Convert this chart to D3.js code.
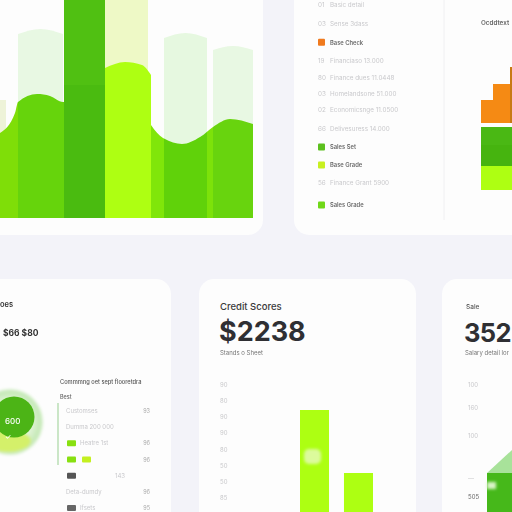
<!DOCTYPE html>
<html><head><meta charset="utf-8">
<script src="https://cdn.jsdelivr.net/npm/d3@7"></script>
<style>html,body{margin:0;padding:0;background:#f3f3f9;overflow:hidden}svg{display:block}text{font-family:Inter,"Liberation Sans",sans-serif}</style>
</head><body><svg id="c" width="512" height="512"></svg>
<script>
// ---- data ----
const paleColumns = ["A","B","C","D","E"];
const paleStart = [-8,18,105,164,213];
const paleEnd = [6,63,148,207,253];
const paleEdge = [118,184,240,180,168];
const paleMid = [118,189,240,185,172];
const paleFill = ["#eef3d8","#e8f8e3","#eef9c6","#e6f8e0","#e8f8e3"];
const bandStart = [0,18,64,105,151,164,207,213];
const bandEnd = [18,64,105,151,164,207,213,253];
const bandFill = ["#7fde08","#66d40c","#4cbc10","#aeff12","#80e60a","#60d20a","#7de20a","#68d40e"];
const waveX = [0,15,18,37,50,63,105,125,142,151,163,182,200,213,230,253];
const waveH = [85,105,116,124,122,116,120,120,110,93,80,74,81,91,99,94];
const limeX = [105,125,142,151];
const limeH = [150,156,153,143];
const legendLabels = ["Basic detail","Sense 3dass","Base Check","Financiaso 13.000","Finance dues 11.0448","Homelandsone 51.000","Economicsnge 11.0500","Delivesuress 14.000","Sales Set","Base Grade","Finance Grant 5900","Sales Grade"];
const legendCodes = ["01","03","","19","80","03","02","66","","","56",""];
const legendSwatch = [null,null,"#f07a1e",null,null,null,null,null,"#5cc01e","#c8f020",null,"#70d818"];
const stackSteps = ["s1","s2","s3"];
const stackStart = [481,493,510];
const stackTop = [118,134,151];
const stackBase = 95;
const stackGreenTop = 91;
const stackGreen = [18,21,24];
const stackGreenFill = ["#4ab814","#46b40f","#aeff12"];
const listLabels = ["Customses","Dumma 200 000","Heatre 1st","","143","Deta-dumdy","Ifsets"];
const listValues = ["93","","96","96","","96","95"];
const listSwatch = [null,null,["#88e010"],["#88e010","#c4f020"],["#555"],null,["#666"]];
const creditTicks = ["90","80","90","90","80","50","50","85"];
const creditBars = ["a","b"];
const creditValues = [102,39];
const saleTicks = ["100","160","100","—","505"];
const saleTickValues = [127,104,76,34,15];

// ---- helpers ----
const svg = d3.select("#c");
const defs = svg.append("defs");
const blur = defs.append("filter").attr("id","soft").attr("x","-10%").attr("y","-30%").attr("width","120%").attr("height","160%");
blur.append("feGaussianBlur").attr("stdDeviation",0.45);
const blob = defs.append("filter").attr("id","blob").attr("x","-30%").attr("y","-30%").attr("width","160%").attr("height","160%");
blob.append("feGaussianBlur").attr("stdDeviation",1.6);
const halo = defs.append("radialGradient").attr("id","halo");
halo.append("stop").attr("offset","60%").attr("stop-color","#e6f6dc");
halo.append("stop").attr("offset","92%").attr("stop-color","#c4e8b6");
halo.append("stop").attr("offset","100%").attr("stop-color","#dcf2d2");
const FONT_GREY="#c9c9cc";
const card=(x,y,w,h)=>svg.append("rect").attr("x",x).attr("y",y).attr("width",w).attr("height",h).attr("rx",15).attr("fill","#fdfdfd");
const label=(g,x,y,t,o={})=>g.append("text").attr("x",x).attr("y",y).text(t)
  .attr("font-size",o.size||6.5).attr("font-weight",o.weight||400).attr("fill",o.fill||FONT_GREY)
  .attr("text-anchor",o.anchor||"start").attr("letter-spacing",o.spacing||null).attr("filter",o.sharp?null:"url(#soft)");

card(-30,-30,293,265); card(294,-30,250,265); card(-30,279,201,260); card(199,279,217,260); card(442,279,100,260);

// ---- top-left chart ----
const x = d3.scaleLinear().domain([0,253]).range([0,253]);
const y = d3.scaleLinear().domain([0,218]).range([218,0]);
const g1 = svg.append("g");
const dome = d3.area().x(d=>x(d[0])).y0(y(0)).y1(d=>y(d[1])).curve(d3.curveNatural);
paleColumns.forEach((_,i)=>{
  g1.append("path").attr("d",dome([[paleStart[i],paleEdge[i]],[(paleStart[i]+paleEnd[i])/2,paleMid[i]],[paleEnd[i],paleEdge[i]]])).attr("fill",paleFill[i]);
});
const wave = d3.area().x((d,i)=>x(waveX[i])).y0(y(0)).y1(d=>y(d)).curve(d3.curveMonotoneX);
bandStart.forEach((s,i)=>{
  const id="band"+i;
  defs.append("clipPath").attr("id",id).append("rect").attr("x",x(s)).attr("y",0).attr("width",x(bandEnd[i])-x(s)).attr("height",y(0));
  if(i===2){
    g1.append("rect").attr("x",x(s)).attr("y",0).attr("width",x(bandEnd[i])-x(s)).attr("height",y(0)).attr("fill","#4abb10");
    g1.append("rect").attr("x",x(s)).attr("y",0).attr("width",x(bandEnd[i])-x(s)).attr("height",y(133)).attr("fill","#50c012");
  } else if(i===3){
    const lime=d3.area().x((d,j)=>x(limeX[j])).y0(y(0)).y1(d=>y(d)).curve(d3.curveMonotoneX);
    g1.append("path").attr("d",lime(limeH)).attr("fill",bandFill[i]);
  } else {
    g1.append("path").attr("d",wave(waveH)).attr("clip-path",`url(#${id})`).attr("fill",bandFill[i]);
  }
});

// ---- legend card ----
const g2 = svg.append("g");
const rowY = d3.scaleLinear().domain([0,3,6,7,10,11]).range([5,61,110,129,183,205]);
g2.append("line").attr("x1",444).attr("x2",444).attr("y1",0).attr("y2",220).attr("stroke","#f0f0f2");
legendLabels.forEach((t,i)=>{
  const ry=rowY(i), sw=legendSwatch[i];
  if(sw){
    g2.append("rect").attr("x",318).attr("y",ry-3.5).attr("width",7).attr("height",7).attr("rx",1).attr("fill",sw);
    label(g2,330,ry+2.2,t,{fill:"#6a6a6a",weight:600,size:5.8});
  } else {
    label(g2,318,ry+2.2,legendCodes[i],{size:6.3});
    label(g2,330,ry+2.2,t,{size:6.3});
  }
});
label(g2,481,25,"Ocddtext",{fill:"#666",weight:600,size:6.3});
stackSteps.forEach((_,i)=>{
  g2.append("rect").attr("x",stackStart[i]).attr("y",y(stackTop[i])).attr("width",540-stackStart[i]).attr("height",y(stackBase)-y(stackTop[i])).attr("fill",i===2?"#c87a14":"#f58a14");
});
let acc=0;
stackGreen.forEach((v,i)=>{
  g2.append("rect").attr("x",481).attr("y",y(stackGreenTop-acc)).attr("width",40).attr("height",y(0)-y(v)).attr("fill",stackGreenFill[i]);
  acc+=v;
});

// ---- bottom-left card ----
const g3 = svg.append("g");
label(g3,0,307,"oes",{fill:"#333",weight:600,size:7.5});
label(g3,3,336,"$66 $80",{fill:"#333",weight:700,size:8.5});
const gb = g3.append("g").attr("filter","url(#blob)");
gb.append("circle").attr("cx",10).attr("cy",422).attr("r",33).attr("fill","url(#halo)");
gb.append("ellipse").attr("cx",8).attr("cy",441).attr("rx",23).attr("ry",11).attr("fill","#d4f06a");
g3.append("circle").attr("cx",14).attr("cy",417).attr("r",20.5).attr("fill","#4cb416");
label(g3,5,424,"600",{fill:"#fff",size:8,weight:500});
label(g3,5,439,"✓",{fill:"#fff",size:7,weight:500});
label(g3,60,384,"Commmng oet sept flooretdra",{fill:"#555",weight:500,size:5.7});
label(g3,60,399,"Best",{fill:"#666",weight:500,size:5.5});
g3.append("line").attr("x1",58).attr("x2",58).attr("y1",403).attr("y2",465).attr("stroke","#a9d7a3").attr("stroke-width",1.2);
const listY = d3.scalePoint().domain(d3.range(listLabels.length)).range([411,508]);
listLabels.forEach((t,i)=>{
  const ly=listY(i), sw=listSwatch[i];
  if(sw) sw.forEach((c,j)=>g3.append("rect").attr("x",67+j*15).attr("y",ly-3).attr("width",9).attr("height",6).attr("rx",1).attr("fill",c));
  label(g3,i===4?115:(sw&&t?80:66),ly+2,t,{size:6});
  if(listValues[i]) label(g3,150,ly+2,listValues[i],{size:5.5,fill:"#aaa",anchor:"end"});
});

// ---- credit scores card ----
const g4 = svg.append("g");
label(g4,220,310,"Credit Scores",{fill:"#3a3a3a",weight:500,size:9.5,sharp:true});
label(g4,219,341,"$2238",{fill:"#2f2f33",weight:700,size:27,sharp:true});
label(g4,220,355,"Stands o Sheet",{fill:"#777",size:6});
const creditY = d3.scalePoint().domain(d3.range(creditTicks.length)).range([385,498]);
creditTicks.forEach((t,i)=>label(g4,220,creditY(i)+2,t,{size:6}));
const bx = d3.scaleBand().domain(creditBars).range([300,373]).paddingInner(0.34);
const cy = d3.scaleLinear().domain([0,102]).range([512,410]);
creditBars.forEach((b,i)=>g4.append("rect").attr("x",bx(b)).attr("y",cy(creditValues[i])).attr("width",bx.bandwidth()).attr("height",cy(0)-cy(creditValues[i])).attr("fill","#adff12"));
g4.append("rect").attr("x",304).attr("y",449).attr("width",17).attr("height",15).attr("rx",5).attr("fill","#dcfb9c").attr("filter","url(#blob)");

// ---- sales card ----
const g5 = svg.append("g");
label(g5,466,309,"Sale",{fill:"#555",weight:500,size:6.5});
label(g5,464,342,"352",{fill:"#2f2f33",weight:700,size:25.5,spacing:-0.6,sharp:true});
label(g5,465,355,"Salary detail lor",{fill:"#777",size:6});
const sy = d3.scaleLinear().domain([0,127]).range([512,385]);
saleTicks.forEach((t,i)=>label(g5,468,sy(saleTickValues[i])+2,t,{size:6,fill:i===4?"#666":FONT_GREY}));
const tri = d3.line().x(d=>d[0]).y(d=>sy(d[1]));
g5.append("path").attr("d",tri([[487,39],[512,62],[512,39]])+"Z").attr("fill","#a8e29a");
g5.append("rect").attr("x",487).attr("y",sy(39)).attr("width",30).attr("height",sy(0)-sy(39)).attr("fill","#46b81a");
g5.append("rect").attr("x",487).attr("y",sy(30)).attr("width",9).attr("height",7).attr("fill","#d9f3c6").attr("filter","url(#blob)");
</script></body></html>
